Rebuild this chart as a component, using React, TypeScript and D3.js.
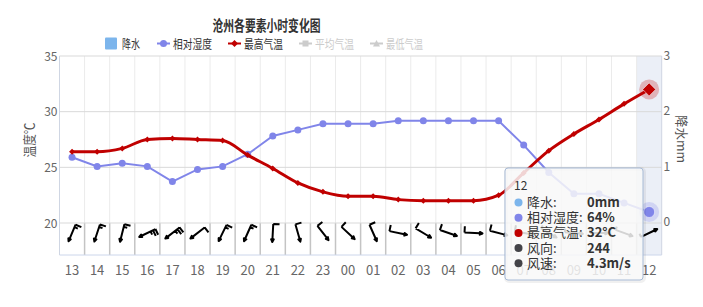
import React from 'react';
import * as d3 from 'd3';

const hours = ['13','14','15','16','17','18','19','20','21','22','23','00','01','02','03','04','05','06','07','08','09','10','11','12'];
const precipitation = [0,0,0,0,0,0,0,0,0,0,0,0,0,0,0,0,0,0,0,0,0,0,0,0];
const humidity = [82,79,80,79,74,78,79,83,89,91,93,93,93,94,94,94,94,94,86,77,70,70,67,64];
const maxTemp = [26.4,26.4,26.7,27.5,27.6,27.5,27.4,26.1,24.9,23.6,22.8,22.4,22.4,22.1,22.0,22.0,22.0,22.5,24.5,26.5,28.0,29.3,30.7,32];
const windDir = [23,18,14,64,52,52,26,24,3,344,322,313,336,282,301,289,273,285,280,300,275,270,290,244];
const windSpeed = [8.5,8.5,8.8,13.2,13.2,6,8.5,8.5,6,5.5,5.5,5.5,5.5,5.5,5.5,5.5,5.5,5.5,5.5,5,5,5,4.5,4.3];
const tempTicks = [20,25,30,35];
const precipTicks = [0,1,2,3];
const legendNames = ['降水','相对湿度','最高气温','平均气温','最低气温'];
const tooltipLabels = ['降水:','相对湿度:','最高气温:','风向:','风速:'];
const tooltipValues = ['0mm','64%','32°C','244','4.3m/s'];

const FONT = '"Noto Sans CJK SC", "Noto Sans", sans-serif';
const W = 703, H = 307;
const L = 59.5, R = 661.7, T = 56, B = 255, WT = 223;
const C_HUM = '#8085e9', C_TEMP = '#c00000', C_PRE = '#7cb5ec';

function barbPath(speed: number, u: number): string {
  let knots = speed * 1.943844;
  let d = `M0,${7*u}L${-1.5*u},${7*u}L0,${10*u}L${1.5*u},${7*u}L0,${7*u}L0,${-10*u}`;
  let pos = -10;
  let n = Math.floor(knots / 50);
  knots -= n * 50;
  while (n-- > 0) { d += `M0,${pos*u}L${5*u},${pos*u+2}L0,${pos*u+4}`; pos += 7; }
  n = Math.floor(knots / 10);
  knots -= n * 10;
  while (n-- > 0) { d += `M0,${pos*u}L${7*u},${pos*u}`; pos += 3; }
  n = Math.floor(knots / 5);
  while (n-- > 0) { d += `M0,${pos*u}L${4*u},${pos*u}`; pos += 3; }
  return d;
}

function diamond(x: number, y: number, r: number) {
  return `M${x},${y-r}L${x+r},${y}L${x},${y+r}L${x-r},${y}Z`;
}

export default function App() {
  const x = d3.scaleBand<string>().domain(hours).range([L, R]).padding(0);
  const bw = x.bandwidth();
  const cx = (h: string) => (x(h) as number) + bw / 2;
  const yT = d3.scaleLinear().domain([20, 35]).range([WT, T]);
  const yP = d3.scaleLinear().domain([0, 3]).range([222, T]);
  const yH = d3.scaleLinear().domain([40, 100]).range([285, 102.5]);

  const humLine = d3.line<number>().x((_, i) => cx(hours[i])).y(v => yH(v))(humidity) as string;
  const tempLine = d3.line<number>().x((_, i) => cx(hours[i])).y(v => yT(v)).curve(d3.curveMonotoneX)(maxTemp) as string;

  const last = hours.length - 1;
  const hx = cx(hours[last]);

  const legendX = [105, 157, 228, 299, 370];
  const legendTextX = [122, 173, 244, 315, 386];
  const legendLen = [18, 39, 39, 39, 37];
  const ly = 43.5;

  const tipRows = [C_PRE, C_HUM, C_TEMP, '#434348', '#434348'];

  return (
    <svg width={W} height={H} style={{ position: 'absolute', left: 0, top: 0, background: '#fff' }} fontFamily={FONT}>
      <rect x={0} y={0} width={W} height={H} fill="#fff" />
      <rect x={x(hours[last])} y={T} width={bw} height={B - T} fill="rgba(204,214,235,0.4)" />
      {hours.map((h, i) => i === 0 ? null : (
        <g key={'vg' + h}>
          <line x1={x(h)} x2={x(h)} y1={T} y2={WT} stroke="#ebebeb" strokeWidth={1} />
          <line x1={x(h)} x2={x(h)} y1={WT} y2={B} stroke="#c4c4c4" strokeWidth={1.5} />
        </g>
      ))}
      {tempTicks.map(t => (
        <line key={'hg' + t} x1={L} x2={R} y1={yT(t)} y2={yT(t)} stroke="#d9d9d9" strokeWidth={1} />
      ))}
      <line x1={L} x2={L} y1={T} y2={B} stroke="#cfd6e3" strokeWidth={1} />
      <line x1={R} x2={R} y1={T} y2={B} stroke="#cfd6e3" strokeWidth={1} />
      <line x1={L} x2={R} y1={B} y2={B} stroke="#ccd6eb" strokeWidth={1} />
      {precipitation.map((v, i) => (
        <rect key={'p' + i} x={cx(hours[i]) - 8} y={yP(v)} width={16} height={yP(0) - yP(v)} fill={C_PRE} />
      ))}
      {hours.map((h, i) => (
        <path key={'w' + h} d={barbPath(windSpeed[i], 18 / 20)}
          transform={`translate(${cx(h)},233) rotate(${windDir[i]})`}
          fill="none" stroke="#000" strokeWidth={2} strokeLinejoin="round" />
      ))}
      <path d={humLine} fill="none" stroke={C_HUM} strokeWidth={2} />
      {humidity.map((v, i) => (
        <circle key={'hm' + i} cx={cx(hours[i])} cy={yH(v)} r={3.5} fill={C_HUM} />
      ))}
      <path d={tempLine} fill="none" stroke={C_TEMP} strokeWidth={3} strokeLinejoin="round" />
      {maxTemp.map((v, i) => (
        <path key={'tm' + i} d={diamond(cx(hours[i]), yT(v), 3)} fill={C_TEMP} />
      ))}
      <circle cx={hx} cy={yT(maxTemp[last])} r={10} fill="rgba(192,0,0,0.25)" />
      <path d={diamond(hx, yT(maxTemp[last]), 6.5)} fill={C_TEMP} stroke="#fff" strokeWidth={0.5} />
      <circle cx={hx} cy={yH(humidity[last])} r={10} fill="rgba(128,133,233,0.25)" />
      <circle cx={hx} cy={yH(humidity[last])} r={5.5} fill={C_HUM} stroke="#fff" strokeWidth={0.5} />
      {tempTicks.map(t => (
        <text key={'lt' + t} x={57.5} y={yT(t) + 4.5} textAnchor="end" fontSize={12} fill="#666">{t}</text>
      ))}
      {precipTicks.map(t => (
        <text key={'rt' + t} x={663.5} y={yP(t) + 4} textAnchor="start" fontSize={12} fill="#666">{t}</text>
      ))}
      {hours.map(h => (
        <text key={'xl' + h} x={cx(h)} y={275} textAnchor="middle" fontSize={13} fill="#666">{h}</text>
      ))}
      <text transform="translate(34,140) rotate(-90)" textAnchor="middle" fontSize={13} fill="#555" textLength={35} lengthAdjust="spacingAndGlyphs">温度℃</text>
      <text transform="translate(676.5,139) rotate(90)" textAnchor="middle" fontSize={13} fill="#555" textLength={48} lengthAdjust="spacingAndGlyphs">降水mm</text>
      <text x={266.5} y={31} textAnchor="middle" fontSize={15} fontWeight="bold" fill="#333" textLength={108} lengthAdjust="spacingAndGlyphs">沧州各要素小时变化图</text>
      <rect x={legendX[0]} y={ly - 6} width={12} height={12} rx={1} fill={C_PRE} />
      <line x1={legendX[1]} x2={legendX[1] + 13} y1={ly} y2={ly} stroke={C_HUM} strokeWidth={2} />
      <circle cx={legendX[1] + 6.5} cy={ly} r={3.5} fill={C_HUM} />
      <line x1={legendX[2]} x2={legendX[2] + 13} y1={ly} y2={ly} stroke={C_TEMP} strokeWidth={2} />
      <path d={diamond(legendX[2] + 6.5, ly, 3.5)} fill={C_TEMP} />
      <line x1={legendX[3]} x2={legendX[3] + 13} y1={ly} y2={ly} stroke="#ccc" strokeWidth={2} />
      <rect x={legendX[3] + 3.5} y={ly - 3} width={6} height={6} fill="#ccc" />
      <line x1={legendX[4]} x2={legendX[4] + 13} y1={ly} y2={ly} stroke="#ccc" strokeWidth={2} />
      <path d={`M${legendX[4] + 6.5},${ly - 3.5}L${legendX[4] + 10},${ly + 3}L${legendX[4] + 3},${ly + 3}Z`} fill="#ccc" />
      {legendNames.map((n, i) => (
        <text key={'lg' + i} x={legendTextX[i]} y={48.5} fontSize={12.5} fill={i < 3 ? '#333' : '#ccc'}
          textLength={legendLen[i]} lengthAdjust="spacingAndGlyphs">{n}</text>
      ))}
      <rect x={506} y={169} width={138} height={112} rx={3} fill="none" stroke="rgba(0,0,0,0.06)" strokeWidth={4} />
      <rect x={505} y={168} width={138} height={112} rx={3} fill="rgba(248,248,248,0.85)" stroke="#a9bcd8" strokeWidth={1} />
      <text x={514} y={190} fontSize={12} fill="#333">{hours[last]}</text>
      {tooltipLabels.map((lab, i) => {
        const yy = 207 + i * 15.2;
        return (
          <g key={'tt' + i}>
            <circle cx={518.5} cy={yy - 4.5} r={4} fill={tipRows[i]} />
            <text x={527} y={yy} fontSize={13} fill="#333">{lab}</text>
            <text x={587} y={yy} fontSize={13} fontWeight="bold" fill="#333">{tooltipValues[i]}</text>
          </g>
        );
      })}
    </svg>
  );
}
